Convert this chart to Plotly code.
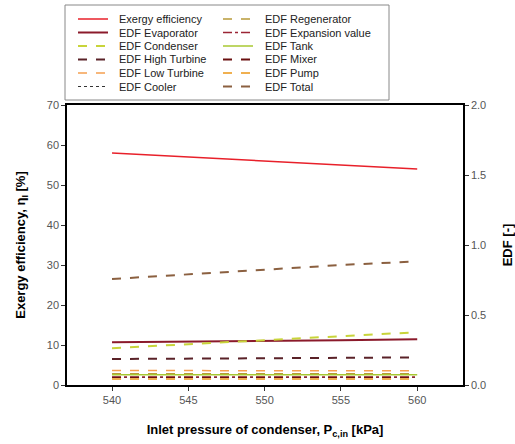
import plotly.graph_objects as go

pressure = [540, 545, 550, 555, 560]
exergy_eff = [58.0, 57.0, 56.0, 55.0, 54.0]
edf_evaporator = [0.306, 0.309, 0.314, 0.320, 0.326]
edf_condenser = [0.263, 0.291, 0.320, 0.349, 0.377]
edf_high_turbine = [0.186, 0.186, 0.191, 0.194, 0.197]
edf_low_turbine = [0.103, 0.103, 0.102, 0.102, 0.102]
edf_cooler = [0.054, 0.054, 0.054, 0.054, 0.054]
edf_regenerator = [0.080, 0.080, 0.080, 0.080, 0.080]
edf_expansion = [0.057, 0.057, 0.057, 0.057, 0.057]
edf_tank = [0.074, 0.074, 0.074, 0.074, 0.074]
edf_mixer = [0.051, 0.051, 0.051, 0.051, 0.051]
edf_pump = [0.043, 0.043, 0.043, 0.043, 0.043]
edf_total = [0.757, 0.789, 0.826, 0.857, 0.883]

# (name, values, axis, color, dash, width)
col1 = [
    ("Exergy efficiency", exergy_eff, "y", "#e8202a", "solid", 1.5),
    ("EDF Evaporator", edf_evaporator, "y2", "#8b1a2b", "solid", 2),
    ("EDF Condenser", edf_condenser, "y2", "#c8d43a", "dash", 2),
    ("EDF High Turbine", edf_high_turbine, "y2", "#5a2228", "dash", 2),
    ("EDF Low Turbine", edf_low_turbine, "y2", "#f5a050", "dash", 1.5),
    ("EDF Cooler", edf_cooler, "y2", "#333333", "dot", 1),
]
col2 = [
    ("EDF Regenerator", edf_regenerator, "y2", "#b89a3a", "dash", 1.5),
    ("EDF Expansion value", edf_expansion, "y2", "#9b2535", "dashdot", 1.5),
    ("EDF Tank", edf_tank, "y2", "#a8c832", "solid", 1.5),
    ("EDF Mixer", edf_mixer, "y2", "#6a1010", "dash", 2),
    ("EDF Pump", edf_pump, "y2", "#f0b050", "dash", 2),
    ("EDF Total", edf_total, "y2", "#8b6040", "dash", 2),
]

W, H = 515, 444
ML, MR, MT, MB = 67, 52, 105, 59
PW, PH = W - ML - MR, H - MT - MB


def px(x):
    return (x - ML) / PW


def py(y):
    return (H - MB - y) / PH


fig = go.Figure()
for name, vals, ax, color, dash, w in col1 + col2:
    fig.add_trace(go.Scatter(
        x=pressure, y=vals, name=name, yaxis=ax, mode="lines",
        line=dict(color=color, dash=dash, width=w), showlegend=False,
    ))

# hand-drawn legend box (compact, as in the reference)
shapes = [dict(type="rect", xref="paper", yref="paper",
               x0=px(65), x1=px(389), y0=py(100), y1=py(5),
               line=dict(color="#888", width=1), fillcolor="white", layer="above")]
annotations = []
row_y = [19, 32.5, 46, 59.5, 73, 86.5]
for col, (sx0, sx1, tx) in zip([col1, col2], [(78, 108, 117), (223, 253, 263)]):
    for (name, _, _, color, dash, w), ry in zip(col, row_y):
        shapes.append(dict(type="line", xref="paper", yref="paper",
                           x0=px(sx0), x1=px(sx1), y0=py(ry), y1=py(ry),
                           line=dict(color=color, dash=dash, width=w), layer="above"))
        annotations.append(dict(xref="paper", yref="paper", x=px(tx), y=py(ry),
                                xanchor="left", yanchor="middle", showarrow=False,
                                text=name, font=dict(size=11, color="#222")))

fig.update_layout(
    width=W, height=H,
    margin=dict(l=ML, r=MR, t=MT, b=MB),
    paper_bgcolor="white", plot_bgcolor="white",
    font=dict(family="Liberation Sans, Arial, sans-serif", size=11, color="#333"),
    showlegend=False,
    shapes=shapes, annotations=annotations,
    xaxis=dict(
        range=[537.05, 563.0], tickvals=[540, 545, 550, 555, 560],
        ticks="outside", ticklen=4, tickcolor="#333", automargin=False,
        showline=True, linecolor="black", linewidth=1.5, mirror=True,
        showgrid=False, zeroline=False,
        tickfont=dict(size=11, color="#555"),
        title=dict(text="<b>Inlet pressure of condenser, P<sub>c,in</sub> [kPa]</b>",
                   font=dict(size=13, color="black"), standoff=20),
    ),
    yaxis=dict(
        range=[0, 70], tickvals=[0, 10, 20, 30, 40, 50, 60, 70],
        ticks="outside", ticklen=4, tickcolor="#333", automargin=False,
        showline=True, linecolor="black", linewidth=1.5,
        showgrid=False, zeroline=False,
        tickfont=dict(size=11, color="#555"),
        title=dict(text="<b>Exergy efficiency, η<sub>I</sub> [%]</b>",
                   font=dict(size=13, color="black"), standoff=18),
    ),
    yaxis2=dict(
        range=[0, 2.0], tickvals=[0, 0.5, 1.0, 1.5, 2.0], tickformat=".1f",
        overlaying="y", side="right", automargin=False,
        ticks="outside", ticklen=4, tickcolor="#333",
        showline=True, linecolor="black", linewidth=1.5,
        showgrid=False, zeroline=False,
        tickfont=dict(size=11, color="#555"),
        title=dict(text="<b>EDF [-]</b>", font=dict(size=13, color="black"), standoff=24),
    ),
)

fig.write_html("out.html")
